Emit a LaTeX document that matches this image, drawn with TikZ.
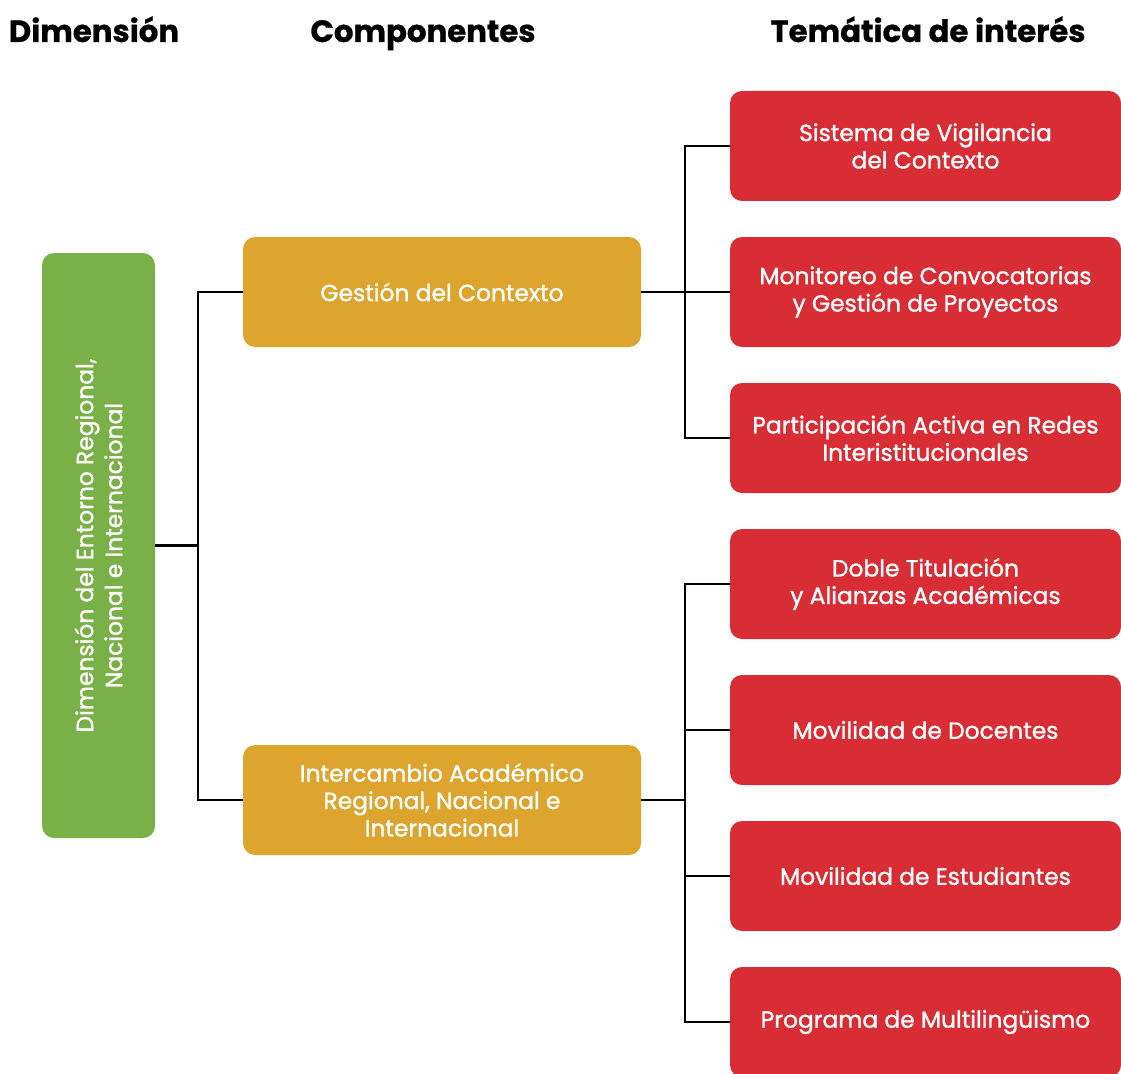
\documentclass[tikz,border=0pt]{standalone}
\usepackage{fontspec}
\setmainfont{Poppins}[BoldFeatures={FakeBold=0.8}]
\newfontfamily\boxfont{Poppins}[FakeBold=1.2]
\usepackage{tikz}

\definecolor{dimgreen}{HTML}{7AB048}
\definecolor{compgold}{HTML}{DDA52E}
\definecolor{temared}{HTML}{D92D35}

\tikzset{
  header/.style={font=\fontsize{17.5}{20}\selectfont\bfseries,anchor=base},
  box/.style={rectangle,rounded corners=0.24cm,text=white,align=center,
    font=\boxfont\fontsize{13.3}{15.6}\selectfont,inner sep=0pt},
  dimbox/.style={box,fill=dimgreen,minimum width=11.7cm,minimum height=2.26cm,rotate=90,
    font=\boxfont\fontsize{13.3}{16.5}\selectfont},
  compbox/.style={box,fill=compgold,minimum width=7.96cm,minimum height=2.2cm},
  temabox/.style={box,fill=temared,minimum width=7.82cm,minimum height=2.2cm},
  link/.style={line width=1.3pt,black}
}

\begin{document}
\begin{tikzpicture}
\useasboundingbox (0,0) rectangle (22.42,-21.48);
% headers
\node [header] (hdim) at(1.88,-0.84){Dimensión};
\node [header] (hcomp) at(8.46,-0.84){Componentes};
\node [header] (htema) at(18.56,-0.84){Temática de interés};
% dimension
\node [dimbox] (dim) at(1.97,-10.91){Dimensión del Entorno Regional,\\Nacional e Internacional};
% components
\node [compbox] (gc) at(8.84,-5.84){Gestión del Contexto};
\node [compbox] (ia) at(8.84,-16.0){Intercambio Académico\\Regional, Nacional e\\Internacional};
% topics
\node [temabox] (t1) at(18.51,-2.92){Sistema de Vigilancia\\del Contexto};
\node [temabox] (t2) at(18.51,-5.84){Monitoreo de Convocatorias\\y Gestión de Proyectos};
\node [temabox] (t3) at(18.51,-8.76){Participación Activa en Redes\\Interistitucionales};
\node [temabox] (t4) at(18.51,-11.68){Doble Titulación\\y Alianzas Académicas};
\node [temabox] (t5) at(18.51,-14.60){Movilidad de Docentes};
\node [temabox] (t6) at(18.51,-17.52){Movilidad de Estudiantes};
\node [temabox] (t7) at(18.51,-20.44){Programa de Multilingüismo};
% connectors
\coordinate (busa) at(3.96,-10.91);
\coordinate (busb) at(13.7,-5.84);
\coordinate (busc) at(13.7,-16.0);
\draw[link](dim.south) -- (busa);
\draw[link](busa) |- (gc.west);
\draw[link](busa) |- (ia.west);
\draw[link](gc.east) -- (busb);
\foreach \t in {t1,t2,t3}
  \draw[link](busb) |- (\t.west);
\draw[link](ia.east) -- (busc);
\foreach \t in {t4,t5,t6,t7}
  \draw[link](busc) |- (\t.west);
\end{tikzpicture}
\end{document}
